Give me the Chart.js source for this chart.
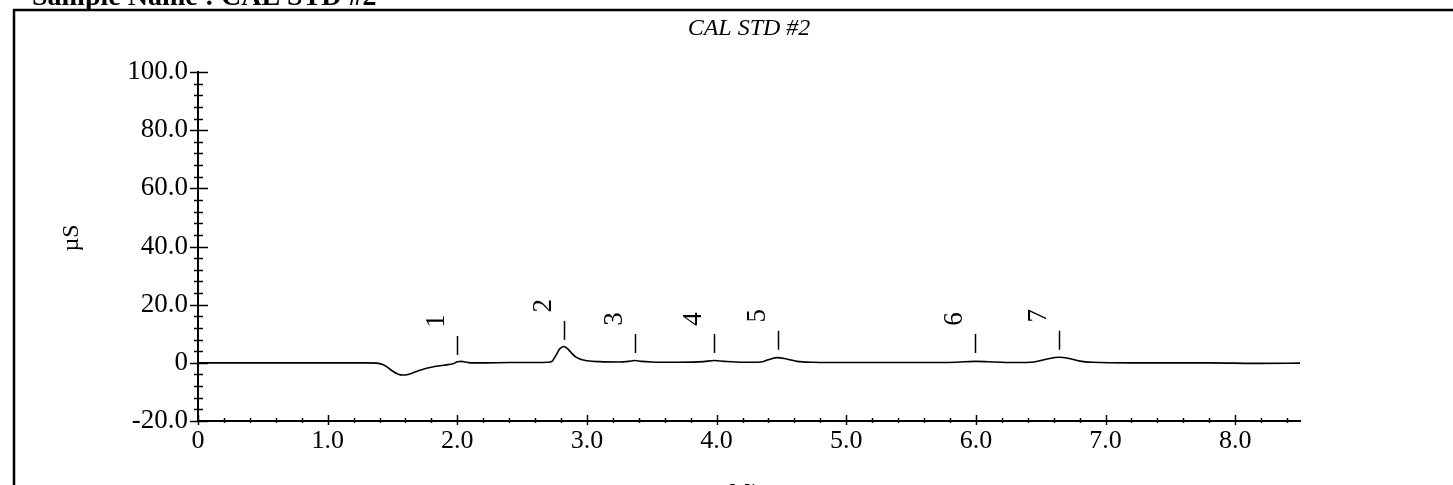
<!DOCTYPE html>
<html>
<head>
<meta charset="utf-8">
<title>CAL STD #2</title>
<script src="https://cdn.jsdelivr.net/npm/chart.js@4.4.0/dist/chart.umd.min.js"></script>
<style>
    html, body { margin: 0; padding: 0; background: #fff; }
    #wrap { width: 1453px; height: 485px; position: relative; }
</style>
</head>
<body>
<div id="wrap"><canvas id="chromChart" width="1453" height="485"></canvas></div>
<script>
// Trace (minutes, µS)
const times = [0, 0.5, 1.0, 1.3, 1.38, 1.42, 1.46, 1.50, 1.54, 1.58, 1.62, 1.66, 1.70, 1.75, 1.80,
    1.85, 1.90, 1.95, 1.98, 2.00, 2.03, 2.06, 2.10, 2.20, 2.40, 2.60, 2.70, 2.73, 2.76, 2.79,
    2.82, 2.85, 2.88, 2.91, 2.95, 3.00, 3.10, 3.25, 3.32, 3.37, 3.42, 3.50, 3.70, 3.90, 3.98,
    4.06, 4.20, 4.34, 4.40, 4.47, 4.54, 4.62, 4.75, 5.00, 5.50, 5.85, 6.00, 6.15, 6.30, 6.45,
    6.55, 6.64, 6.72, 6.80, 6.90, 7.20, 7.80, 8.20, 8.50];
const signal = [0, 0, 0, 0, -0.1, -0.5, -1.5, -2.8, -3.8, -4.2, -4.0, -3.4, -2.7, -2.0, -1.5,
    -1.1, -0.8, -0.5, -0.1, 0.4, 0.5, 0.3, 0.0, 0.0, 0.1, 0.1, 0.2, 0.5, 2.5, 4.8,
    5.6, 4.9, 3.4, 2.1, 1.2, 0.7, 0.4, 0.3, 0.5, 0.8, 0.5, 0.3, 0.2, 0.4, 0.8,
    0.5, 0.2, 0.3, 1.1, 1.8, 1.3, 0.5, 0.2, 0.1, 0.1, 0.2, 0.5, 0.3, 0.1, 0.3,
    1.3, 1.9, 1.5, 0.6, 0.2, 0.0, 0.0, -0.2, -0.1];

// Peak annotations
const peakNames = ['1', '2', '3', '4', '5', '6', '7'];
const peakTimes = [2.00, 2.82, 3.37, 3.98, 4.47, 5.99, 6.64];
const peakMarkerBase = [2.7, 7.9, 3.4, 3.4, 4.5, 3.4, 4.5];

const xMajorTicks = [0, 1, 2, 3, 4, 5, 6, 7, 8];
const yMajorTicks = [-20, 0, 20, 40, 60, 80, 100];

const SERIF = '"Liberation Serif", "Times New Roman", serif';

const points = times.map((t, i) => ({ x: t, y: signal[i] }));

// Frame, header, axis titles, minor ticks and peak labels
const decorations = {
    id: 'decorations',
    afterDraw(chart) {
        const { ctx, chartArea, scales } = chart;
        const xs = scales.x, ys = scales.y;
        ctx.save();

        // page frame + header
        ctx.strokeStyle = '#000';
        ctx.lineWidth = 2.5;
        ctx.beginPath();
        ctx.moveTo(14, 485);
        ctx.lineTo(14, 10);
        ctx.lineTo(1453, 10);
        ctx.stroke();
        ctx.fillStyle = '#000';
        ctx.font = 'bold 28px ' + SERIF;
        ctx.textAlign = 'left';
        ctx.textBaseline = 'alphabetic';
        ctx.fillText('Sample Name : CAL STD #2', 32, 5);

        // y axis ticks (major every 20, minor every 4)
        ctx.lineWidth = 1.5;
        const ax = chartArea.left;
        for (let v = -20; v <= 100; v += 4) {
            const py = Math.round(ys.getPixelForValue(v)) + 0.5;
            const major = yMajorTicks.includes(v);
            ctx.beginPath();
            ctx.moveTo(ax - (major ? 8 : 4), py);
            ctx.lineTo(ax + (major ? 10 : 5), py);
            ctx.stroke();
        }
        // x axis ticks (major every 1, minor every 0.2)
        const ay = chartArea.bottom;
        for (let k = 0; k <= 42; k++) {
            const v = k / 5;
            const px = Math.round(xs.getPixelForValue(v)) + 0.5;
            const major = k % 5 === 0;
            ctx.beginPath();
            ctx.moveTo(px, ay - (major ? 6 : 3));
            ctx.lineTo(px, ay + (major ? 4 : 2));
            ctx.stroke();
        }

        // y axis title
        ctx.save();
        ctx.translate(72, 238);
        ctx.rotate(-Math.PI / 2);
        ctx.font = '24px ' + SERIF;
        ctx.textAlign = 'center';
        ctx.textBaseline = 'middle';
        ctx.fillText('µS', 0, 0);
        ctx.restore();

        // x axis title (cut by the page edge)
        ctx.font = '24px ' + SERIF;
        ctx.textAlign = 'center';
        ctx.textBaseline = 'top';
        ctx.fillText('Min', (chartArea.left + chartArea.right) / 2, 481);

        // peak markers and rotated peak numbers
        ctx.lineWidth = 1.5;
        ctx.font = '27px ' + SERIF;
        peakTimes.forEach((t, i) => {
            const px = Math.round(xs.getPixelForValue(t)) + 0.5;
            const yBottom = ys.getPixelForValue(peakMarkerBase[i]);
            const yTop = yBottom - 19;
            ctx.beginPath();
            ctx.moveTo(px, yBottom);
            ctx.lineTo(px, yTop);
            ctx.stroke();
            ctx.save();
            ctx.translate(px - 21, yTop - 15);
            ctx.rotate(-Math.PI / 2);
            ctx.textAlign = 'center';
            ctx.textBaseline = 'middle';
            ctx.fillText(peakNames[i], 0, 0);
            ctx.restore();
        });
        ctx.restore();
    }
};

const ctx = document.getElementById('chromChart').getContext('2d');

const chart = new Chart(ctx, {
    type: 'scatter',
    data: {
        datasets: [{
            label: 'CAL STD #2',
            data: points,
            showLine: true,
            borderColor: '#000',
            borderWidth: 1.6,
            pointRadius: 0,
            cubicInterpolationMode: 'monotone',
            fill: false
        }]
    },
    options: {
        responsive: false,
        animation: false,
        devicePixelRatio: 1,
        layout: {
            padding: { left: 0, right: 153, top: 0, bottom: 0 }
        },
        plugins: {
            legend: { display: false },
            tooltip: { enabled: false },
            title: {
                display: true,
                fullSize: false,
                text: 'CAL STD #2',
                color: '#000',
                font: { family: SERIF, size: 24, style: 'italic', weight: 'normal' },
                padding: { top: 14, bottom: 29.2 }
            }
        },
        scales: {
            x: {
                type: 'linear',
                min: 0,
                max: 8.5,
                afterFit(scale) { scale.height = 64; },
                grid: { display: false, drawTicks: false },
                border: { display: true, color: '#000', width: 2 },
                ticks: {
                    stepSize: 1,
                    includeBounds: false,
                    padding: 5,
                    color: '#000',
                    maxRotation: 0,
                    font: { family: SERIF, size: 26 },
                    callback: (v) => xMajorTicks.includes(v) ? (v === 0 ? '0' : v.toFixed(1)) : ''
                }
            },
            y: {
                type: 'linear',
                min: -20,
                max: 100,
                afterFit(scale) { scale.width = 198; },
                grid: { display: false, drawTicks: false },
                border: { display: true, color: '#000', width: 2 },
                ticks: {
                    stepSize: 20,
                    padding: 10,
                    color: '#000',
                    font: { family: SERIF, size: 27 },
                    callback: (v) => yMajorTicks.includes(v) ? (v === 0 ? '0' : v.toFixed(1)) : ''
                }
            }
        }
    },
    plugins: [decorations]
});
</script>
</body>
</html>
